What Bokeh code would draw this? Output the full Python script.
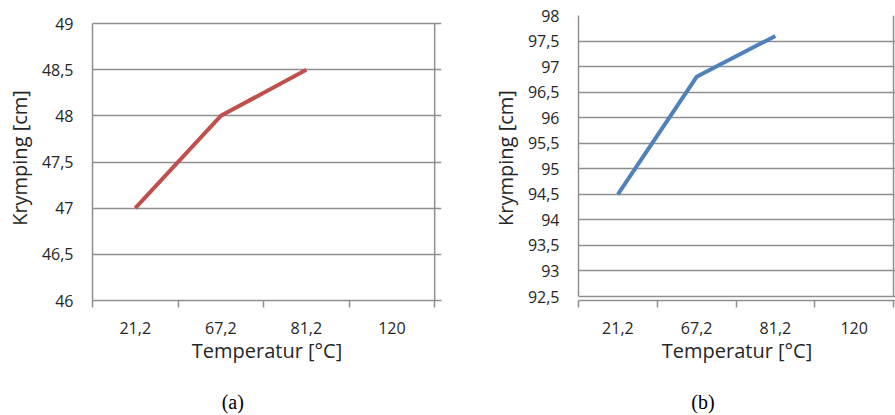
from bokeh.plotting import figure
from bokeh.layouts import row
from bokeh.models import Range1d, FixedTicker, LinearAxis
from bokeh.embed import file_html
from bokeh.resources import INLINE

# ---- data ----
temps = ["21,2", "67,2", "81,2", "120"]
shrink_a = [47.0, 48.0, 48.5]
shrink_b = [94.5, 96.8, 97.6]
yticks_a = [46, 46.5, 47, 47.5, 48, 48.5, 49]
yticks_b = [92.5, 93, 93.5, 94, 94.5, 95, 95.5, 96, 96.5, 97, 97.5, 98]
xlabel = "Temperatur [°C]"
ylabel = "Krymping [cm]"
captions = ["(a)", "(b)"]
colors = ["#C0504D", "#4F81BD"]

GRID = "#8f8f8f"
TXT = "#262626"
FONT = "Open Sans"


def fmt(v):
    return ("%g" % v).replace(".", ",")


def panel(values, color, yticks, caption, width, height, bl, br, bt, bb,
          xext, ytop_ext, ybot_ext, cap_pos):
    n = len(temps)
    p = figure(width=width, height=height,
               x_range=Range1d(0, n + xext),
               y_range=Range1d(yticks[0] - ybot_ext, yticks[-1] + ytop_ext),
               output_backend="svg", toolbar_location=None,
               min_border_left=bl, min_border_right=br,
               min_border_top=bt, min_border_bottom=bb)
    p.outline_line_color = None
    p.background_fill_color = "white"
    p.border_fill_color = "white"

    # x axis: labels at category centres, tick marks at boundaries
    centers = [i + 0.5 for i in range(n)]
    p.xaxis.ticker = FixedTicker(ticks=centers, minor_ticks=list(range(n + 1)))
    p.xaxis.major_label_overrides = {c: t for c, t in zip(centers, temps)}
    p.xaxis.major_tick_in = 0
    p.xaxis.major_tick_out = 0
    p.xaxis.minor_tick_in = 0
    p.xaxis.minor_tick_out = 7
    p.xaxis.minor_tick_line_color = GRID
    p.xaxis.minor_tick_line_width = 1.5
    p.xaxis.axis_line_color = GRID
    p.xaxis.axis_line_width = 1.5
    p.xaxis.major_label_standoff = 14
    p.xaxis.axis_label = xlabel
    p.xaxis.axis_label_standoff = 0
    p.xgrid.visible = False

    # y axis
    p.yaxis.ticker = FixedTicker(ticks=yticks)
    p.yaxis.bounds = (yticks[0], yticks[-1])
    p.yaxis.major_label_overrides = {v: fmt(v) for v in yticks}
    p.yaxis.major_tick_in = 0
    p.yaxis.major_tick_out = 0
    p.yaxis.minor_tick_line_color = None
    p.yaxis.axis_line_color = GRID
    p.yaxis.axis_line_width = 1.5
    p.yaxis.major_label_standoff = 19
    p.yaxis.axis_label = ylabel
    p.yaxis.axis_label_standoff = 6
    p.ygrid.grid_line_color = GRID
    p.ygrid.grid_line_width = 1.5

    for ax in (p.xaxis, p.yaxis):
        ax.major_label_text_font = FONT
        ax.major_label_text_font_size = "16px"
        ax.major_label_text_color = TXT
        ax.axis_label_text_font = FONT
        ax.axis_label_text_font_size = "20px"
        ax.axis_label_text_font_style = "normal"
        ax.axis_label_text_color = TXT

    # right-hand border line of the plot area
    p.segment(x0=[n], y0=[yticks[0]], x1=[n], y1=[yticks[-1]],
              line_color=GRID, line_width=1.5)

    p.line(x=centers[:len(values)], y=values, line_color=color, line_width=4)

    # sub-figure caption, placed as a label-only axis below the x axis
    cap_axis = LinearAxis(ticker=FixedTicker(ticks=[cap_pos], minor_ticks=[]),
                          major_label_overrides={cap_pos: caption},
                          axis_line_color=None, major_tick_line_color=None,
                          minor_tick_line_color=None,
                          major_label_standoff=18,
                          major_label_text_font="Liberation Serif",
                          major_label_text_font_size="20px",
                          major_label_text_color="black")
    p.add_layout(cap_axis, "below")
    return p


pa = panel(shrink_a, colors[0], yticks_a, captions[0], 450, 415,
           92, 9, 15, 115, 0.08, 0.087, 0.0, 1.64)
pb = panel(shrink_b, colors[1], yticks_b, captions[1], 445, 415,
           128, 0, 15, 115, 0.025, 0.0, 0.078, 1.58)

layout = row(pa, pb, spacing=0)
open("out.html", "w").write(file_html(layout, INLINE))
